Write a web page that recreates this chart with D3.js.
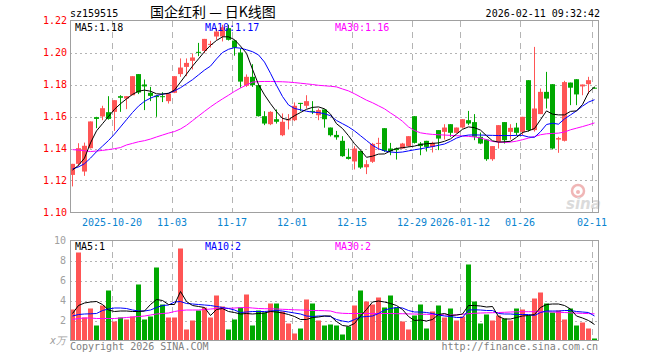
<!DOCTYPE html>
<html>
<head>
<meta charset="utf-8">
<script src="https://cdn.jsdelivr.net/npm/d3@7"></script>
<style>
  body { margin: 0; background: #fff; }
  text { font-family: "DejaVu Sans Mono", monospace; font-size: 10px; }
</style>
</head>
<body>
<div id="main"></div>
<script>
// candles, one per trading day (2025-10-09 .. 2026-02-11)
const opens = [1.1235,1.1304,1.1256,1.1402,1.1596,1.1600,1.1627,1.1629,1.1727,1.1712,
  1.1733,1.1865,1.1800,1.1748,1.1730,1.1727,1.1696,1.1748,1.1865,1.1910,
  1.1948,1.2004,1.2010,1.2050,1.2100,1.2100,1.2152,1.2075,1.2000,1.1792,
  1.1848,1.1796,1.1602,1.1552,1.1583,1.1483,1.1575,1.1577,1.1685,1.1667,
  1.1635,1.1608,1.1644,1.1531,1.1485,1.1448,1.1348,1.1319,1.1385,1.1283,
  1.1317,1.1429,1.1527,1.1400,1.1400,1.1400,1.1415,1.1602,1.1431,1.1448,
  1.1410,1.1515,1.1504,1.1552,1.1498,1.1531,1.1577,1.1565,1.1473,1.1456,
  1.1333,1.1442,1.1565,1.1504,1.1531,1.1504,1.1827,1.1515,1.1615,1.1754,
  1.1802,1.1456,1.1448,1.1812,1.1833,1.1788,1.1802,1.1780];
const highs = [1.1304,1.1433,1.1437,1.1569,1.1598,1.1667,1.1727,1.1702,1.1733,1.1727,
  1.1852,1.1865,1.1831,1.1785,1.1733,1.1752,1.1744,1.1852,1.1963,1.1963,
  1.1994,1.2060,1.2085,1.2073,1.2152,1.2173,1.2173,1.2079,1.2025,1.1863,
  1.1927,1.1800,1.1633,1.1633,1.1644,1.1619,1.1615,1.1688,1.1685,1.1733,
  1.1696,1.1650,1.1644,1.1531,1.1510,1.1477,1.1400,1.1415,1.1385,1.1327,
  1.1435,1.1467,1.1527,1.1435,1.1406,1.1435,1.1477,1.1602,1.1440,1.1448,
  1.1442,1.1515,1.1552,1.1552,1.1531,1.1583,1.1635,1.1615,1.1500,1.1456,
  1.1415,1.1546,1.1565,1.1552,1.1560,1.1598,1.1827,1.2035,1.1775,1.1879,
  1.1802,1.1473,1.1823,1.1812,1.1833,1.1800,1.1848,1.1785];
const lows = [1.1163,1.1288,1.1229,1.1400,1.1527,1.1577,1.1580,1.1510,1.1629,1.1646,
  1.1733,1.1740,1.1640,1.1696,1.1598,1.1690,1.1681,1.1746,1.1848,1.1852,
  1.1894,1.1977,1.1996,1.2031,1.2079,1.2069,1.2075,1.1980,1.1780,1.1785,
  1.1785,1.1600,1.1546,1.1546,1.1556,1.1477,1.1519,1.1571,1.1633,1.1650,
  1.1615,1.1577,1.1530,1.1475,1.1455,1.1348,1.1331,1.1269,1.1273,1.1240,
  1.1310,1.1390,1.1379,1.1358,1.1331,1.1400,1.1410,1.1431,1.1358,1.1381,
  1.1375,1.1390,1.1456,1.1473,1.1494,1.1525,1.1546,1.1452,1.1427,1.1323,
  1.1323,1.1400,1.1431,1.1456,1.1483,1.1483,1.1506,1.1506,1.1615,1.1650,
  1.1394,1.1373,1.1444,1.1671,1.1671,1.1733,1.1740,1.1775];
const closes = [1.1304,1.1402,1.1417,1.1569,1.1585,1.1652,1.1585,1.1702,1.1717,1.1727,
  1.1852,1.1750,1.1788,1.1729,1.1721,1.1721,1.1744,1.1852,1.1906,1.1935,
  1.1969,1.2000,1.2085,1.2054,1.2131,1.2158,1.2079,1.2031,1.1818,1.1848,
  1.1796,1.1602,1.1556,1.1629,1.1567,1.1567,1.1583,1.1667,1.1681,1.1696,
  1.1629,1.1640,1.1583,1.1483,1.1470,1.1352,1.1335,1.1400,1.1281,1.1302,
  1.1429,1.1435,1.1385,1.1383,1.1390,1.1431,1.1477,1.1435,1.1415,1.1410,
  1.1435,1.1462,1.1531,1.1498,1.1531,1.1583,1.1556,1.1473,1.1431,1.1333,
  1.1415,1.1546,1.1452,1.1529,1.1498,1.1598,1.1515,1.1650,1.1754,1.1712,
  1.1400,1.1465,1.1815,1.1780,1.1738,1.1800,1.1827,1.1777];

// moving averages as drawn on the chart
const ma5 = [1.1265,1.1295,1.1340,1.1435,1.1510,1.1555,1.1600,1.1645,1.1680,1.1710,
  1.1738,1.1758,1.1765,1.1758,1.1742,1.1740,1.1745,1.1765,1.1815,1.1865,
  1.1915,1.1960,1.2005,1.2045,1.2075,1.2098,1.2098,1.2080,1.2040,1.1995,
  1.1895,1.1800,1.1735,1.1680,1.1630,1.1588,1.1580,1.1605,1.1625,1.1645,
  1.1657,1.1660,1.1648,1.1615,1.1555,1.1525,1.1480,1.1430,1.1390,1.1345,
  1.1352,1.1365,1.1366,1.1385,1.1400,1.1405,1.1410,1.1415,1.1425,1.1430,
  1.1432,1.1435,1.1445,1.1460,1.1490,1.1520,1.1535,1.1530,1.1515,1.1480,
  1.1448,1.1440,1.1442,1.1445,1.1470,1.1500,1.1510,1.1525,1.1580,1.1635,
  1.1615,1.1610,1.1610,1.1632,1.1635,1.1675,1.1750,1.1785];
const ma10 = [1.1272,1.1285,1.1305,1.1340,1.1380,1.1415,1.1450,1.1490,1.1535,1.1580,
  1.1625,1.1665,1.1695,1.1715,1.1730,1.1740,1.1745,1.1760,1.1780,1.1805,
  1.1830,1.1860,1.1890,1.1915,1.1960,1.2000,1.2020,1.2031,1.2027,1.2017,
  1.2005,1.1985,1.1940,1.1870,1.1795,1.1725,1.1672,1.1650,1.1642,1.1633,
  1.1627,1.1625,1.1617,1.1605,1.1575,1.1555,1.1535,1.1510,1.1480,1.1450,
  1.1420,1.1398,1.1385,1.1378,1.1375,1.1378,1.1385,1.1392,1.1398,1.1405,
  1.1412,1.1420,1.1428,1.1445,1.1465,1.1478,1.1484,1.1485,1.1484,1.1483,
  1.1482,1.1481,1.1481,1.1481,1.1482,1.1482,1.1472,1.1470,1.1505,1.1550,
  1.1558,1.1552,1.1585,1.1610,1.1635,1.1665,1.1690,1.1705];
const ma30 = [1.1393,1.1390,1.1386,1.1381,1.1384,1.1388,1.1393,1.1399,1.1406,1.1422,
  1.1432,1.1442,1.1449,1.1459,1.1472,1.1484,1.1496,1.1506,1.1522,1.1545,
  1.1574,1.1603,1.1632,1.1660,1.1686,1.1710,1.1733,1.1757,1.1778,1.1797,
  1.1815,1.1818,1.1819,1.1819,1.1818,1.1817,1.1815,1.1812,1.1808,1.1804,
  1.1800,1.1795,1.1792,1.1789,1.1785,1.1772,1.1760,1.1742,1.1722,1.1702,
  1.1686,1.1667,1.1648,1.1622,1.1598,1.1570,1.1535,1.1512,1.1498,1.1492,
  1.1488,1.1486,1.1484,1.1482,1.1480,1.1478,1.1476,1.1472,1.1466,1.1455,
  1.1444,1.1440,1.1438,1.1440,1.1446,1.1455,1.1465,1.1475,1.1486,1.1492,
  1.1494,1.1496,1.1503,1.1517,1.1527,1.1537,1.1548,1.1560];

// volume (x万)
const volumes = [3.1,8.8,2.3,3.2,1.5,3.5,5.0,1.9,2.3,2.1,
  2.4,5.6,2.1,2.4,7.3,3.6,2.3,2.3,9.2,1.1,
  2.0,3.0,3.3,2.3,4.5,3.4,1.1,2.1,3.3,4.6,
  1.5,3.0,2.8,3.7,3.7,2.9,1.7,0.7,1.2,4.1,
  3.7,2.0,1.5,1.6,1.5,0.6,1.4,3.5,5.0,3.9,
  3.6,4.3,3.3,4.5,3.3,1.9,1.1,2.5,3.6,1.2,
  2.9,3.5,2.3,3.2,2.0,2.4,7.6,3.9,1.7,2.6,
  2.0,2.5,2.2,2.0,3.2,3.1,2.5,4.2,4.8,3.7,
  2.8,3.0,2.1,3.2,1.5,1.8,1.2,0.2];
const vma5 = [2.7,3.5,3.75,3.85,3.9,3.6,3.05,2.9,2.95,2.95,
  2.9,2.9,2.95,3.6,4.1,4.0,3.6,3.6,4.9,3.9,
  3.5,3.4,3.3,2.5,3.1,3.2,2.9,2.8,2.65,2.7,
  2.65,2.7,2.75,2.9,2.85,2.75,2.6,2.4,2.1,2.1,
  2.3,2.35,2.45,2.45,1.9,1.5,1.42,1.7,2.45,3.1,
  3.85,3.95,3.85,3.7,3.5,3.1,2.4,2.0,2.05,1.95,
  2.1,2.6,2.7,2.5,2.55,2.65,3.5,3.5,3.45,3.35,
  3.4,2.4,2.15,2.15,2.3,2.45,2.5,2.6,3.3,3.6,
  3.65,3.65,3.5,3.15,2.45,2.25,2.0,1.6];
const vma10 = [2.45,2.6,2.65,2.67,2.7,3.0,3.15,3.25,3.25,3.2,
  3.05,2.95,2.95,3.05,3.3,3.5,3.55,3.85,3.9,3.7,
  3.65,3.6,3.55,3.5,3.4,3.3,3.2,3.05,2.8,2.85,
  2.9,2.9,2.9,2.95,3.0,2.95,2.85,2.75,2.65,2.45,
  2.4,2.45,2.45,2.4,2.1,1.95,1.85,2.1,2.35,2.4,
  2.45,2.7,3.05,3.2,3.3,3.25,3.0,2.85,2.85,2.8,
  2.7,2.55,2.45,2.4,2.3,2.3,3.05,3.07,3.05,3.0,
  3.0,2.7,2.65,2.65,2.6,2.6,2.6,2.5,2.8,2.95,
  2.95,2.95,3.0,3.0,2.9,2.85,2.8,2.45];
const vma30 = [2.1,2.2,2.25,2.25,2.2,2.2,2.2,2.2,2.25,2.3,
  2.35,2.4,2.45,2.55,2.65,2.7,2.75,2.9,3.0,3.05,
  3.05,3.05,3.1,3.15,3.2,3.2,3.22,3.25,3.28,3.3,
  3.25,3.2,3.18,3.17,3.15,3.12,3.1,3.07,3.05,3.03,
  3.0,3.0,2.98,2.95,2.78,2.72,2.7,2.7,2.7,2.7,
  2.7,2.7,2.7,2.7,2.68,2.68,2.66,2.65,2.63,2.62,
  2.6,2.58,2.56,2.55,2.56,2.62,2.68,2.72,2.75,2.77,
  2.78,2.8,2.82,2.85,2.87,2.88,2.88,2.88,2.88,2.87,
  2.85,2.82,2.8,2.77,2.74,2.71,2.69,2.67];

const tickIndex = [7,17,27,37,47,57,65,75,87];
const tickLabels = ["2025-10-20","11-03","11-17","12-01","12-15","12-29","2026-01-12","01-26","02-11"];
const priceTicks = [1.10,1.12,1.14,1.16,1.18,1.20,1.22];
const volTicks = [2,4,6,8,10];

const RED = "#ff5555", GREEN = "#00a800", FRAME = "#a0a0a0", GRID = "#b4b4b4";

const svg = d3.select("#main").append("svg")
    .attr("width", 660)
    .attr("height", 360);

const n = closes.length;
const x = d3.scaleLinear().domain([0, n]).range([70, 598]);
const barW = x(1) - x(0) - 1;
const cx = i => Math.round(x(i)) + 2.5;

const y = d3.scaleLinear().domain([1.10, 1.22]).range([212.5, 20.5]);
const yv = d3.scaleLinear().domain([0, 10]).range([340.5, 240.5]);

// header
svg.append("text").attr("x", 70).attr("y", 16.5).text("sz159515");
svg.append("text").attr("x", 150).attr("y", 16.5)
    .style("font-family", "'Noto Sans CJK SC'").style("font-size", "14px")
    .text("国企红利 — 日K线图");
svg.append("text").attr("x", 600).attr("y", 16.5).attr("text-anchor", "end")
    .text("2026-02-11 09:32:42");

function grid(yScale, ticks, top, bottom) {
    const g = svg.append("g");
    g.selectAll(".h").data(ticks).enter().append("line")
        .attr("x1", 70).attr("x2", 598)
        .attr("y1", d => Math.round(yScale(d)) + 0.5)
        .attr("y2", d => Math.round(yScale(d)) + 0.5)
        .attr("stroke", GRID).attr("stroke-dasharray", "2,3");
    g.selectAll(".v").data(tickIndex).enter().append("line")
        .attr("x1", d => Math.round(x(d)) + 0.5)
        .attr("x2", d => Math.round(x(d)) + 0.5)
        .attr("y1", top).attr("y2", bottom)
        .attr("stroke", GRID).attr("stroke-dasharray", "6,5");
}
grid(y, priceTicks.slice(1, -1), 21, 212);
grid(yv, volTicks.slice(0, -1), 241, 340);

// sina watermark
const wm = svg.append("g").attr("opacity", 0.45);
wm.append("circle").attr("cx", 578).attr("cy", 191).attr("r", 6)
    .attr("fill", "none").attr("stroke", "#e06060").attr("stroke-width", 2.5);
wm.append("circle").attr("cx", 578).attr("cy", 192).attr("r", 2).attr("fill", "#e06060");
wm.append("text").attr("x", 566).attr("y", 209)
    .style("font-family", "'DejaVu Sans'").style("font-size", "15px")
    .style("font-weight", "bold").style("font-style", "italic")
    .attr("fill", "#b0b0b0").text("sina");

// candles
const idx = d3.range(n);
const up = i => closes[i] >= opens[i];
const cg = svg.append("g");
cg.selectAll(".wick").data(idx).enter().append("line")
    .attr("x1", cx).attr("x2", cx)
    .attr("y1", i => y(highs[i])).attr("y2", i => y(lows[i]))
    .attr("stroke", i => up(i) ? RED : GREEN);
cg.selectAll(".body").data(idx).enter().append("rect")
    .attr("x", i => Math.round(x(i)))
    .attr("width", barW)
    .attr("y", i => y(Math.max(opens[i], closes[i])))
    .attr("height", i => Math.max(1, Math.abs(y(opens[i]) - y(closes[i]))))
    .attr("fill", i => up(i) ? RED : GREEN);

// volume bars
svg.append("g").selectAll("rect").data(idx).enter().append("rect")
    .attr("x", i => Math.round(x(i)))
    .attr("width", barW)
    .attr("y", i => yv(volumes[i]))
    .attr("height", i => yv(0) - yv(volumes[i]))
    .attr("fill", i => up(i) ? RED : GREEN);

function maLine(values, yScale, color) {
    svg.append("path")
        .datum(values)
        .attr("fill", "none")
        .attr("stroke", color)
        .attr("stroke-width", 1)
        .attr("d", d3.line().x((d, i) => cx(i)).y(d => yScale(d)));
}
maLine(ma30, y, "#ff00ff");
maLine(ma10, y, "#0000ff");
maLine(ma5, y, "#000000");
maLine(vma30, yv, "#ff00ff");
maLine(vma10, yv, "#0000ff");
maLine(vma5, yv, "#000000");

// frames
svg.append("rect").attr("x", 70.5).attr("y", 20.5).attr("width", 528).attr("height", 192)
    .attr("fill", "none").attr("stroke", FRAME);
svg.append("rect").attr("x", 70.5).attr("y", 240.5).attr("width", 528).attr("height", 100)
    .attr("fill", "none").attr("stroke", FRAME);

// price axis labels
svg.selectAll(".py").data(priceTicks).enter().append("text")
    .attr("x", 67).attr("y", d => y(d) + 3.5)
    .attr("text-anchor", "end").attr("fill", "#ff0000")
    .text(d => d.toFixed(2));

// volume axis labels
svg.selectAll(".vy").data(volTicks).enter().append("text")
    .attr("x", 66).attr("y", d => yv(d) + 3.5)
    .attr("text-anchor", "end").attr("fill", "#a0a0a0")
    .text(d => d);
svg.append("text").attr("x", 66).attr("y", 344).attr("text-anchor", "end")
    .attr("fill", "#a0a0a0").style("font-style", "italic").text("x万");

// date labels
svg.selectAll(".dx").data(tickIndex).enter().append("text")
    .attr("x", d => Math.round(x(d)))
    .attr("y", 226)
    .attr("text-anchor", "middle").attr("fill", "#0a84d0")
    .text((d, i) => tickLabels[i]);

// legends
const legend = [
    {t: "MA5:1.18", c: "#000", x: 75, y: 30.5},
    {t: "MA10:1.17", c: "#0000ff", x: 205, y: 30.5},
    {t: "MA30:1.16", c: "#ff00ff", x: 335, y: 30.5},
    {t: "MA5:1", c: "#000", x: 75, y: 250},
    {t: "MA10:2", c: "#0000ff", x: 205, y: 250},
    {t: "MA30:2", c: "#ff00ff", x: 335, y: 250}
];
svg.selectAll(".lg").data(legend).enter().append("text")
    .attr("x", d => d.x).attr("y", d => d.y).attr("fill", d => d.c)
    .text(d => d.t);

// footer
svg.append("text").attr("x", 70).attr("y", 350).attr("fill", "#808080")
    .text("Copyright 2026 SINA.COM");
svg.append("text").attr("x", 598).attr("y", 350).attr("text-anchor", "end")
    .attr("fill", "#808080").text("http://finance.sina.com.cn");
</script>
</body>
</html>
